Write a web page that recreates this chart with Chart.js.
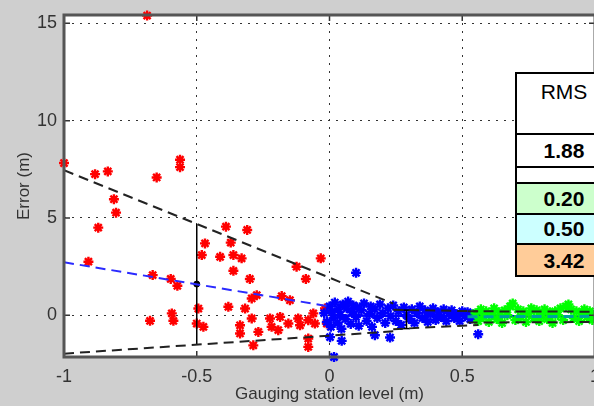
<!DOCTYPE html>
<html>
<head>
<meta charset="UTF-8">
<title>Error vs gauging station level</title>
<script src="https://cdn.jsdelivr.net/npm/chart.js"></script>
<style>
  html, body { margin: 0; padding: 0; background: #cfcfcf; overflow: hidden; }
  .wrap { position: relative; width: 594px; height: 406px; overflow: hidden; }
  #grafico { position: absolute; left: 0; top: 0; }
  .cell {
    position: absolute; left: 515px; width: 96px; box-sizing: border-box;
    border-left: 2px solid #000; border-top: 2px solid #000;
    font-family: "Liberation Sans", Arial, sans-serif; font-size: 21px;
    text-align: center; color: #000;
  }
</style>
</head>
<body>
<div class="wrap">
  <canvas id="grafico" width="610" height="406"></canvas>
  <div id="tabela"></div>
</div>
<script>
// ticks
const xTicks = [-1, -0.5, 0, 0.5, 1];
const yTicks = [0, 5, 10, 15];

// RMS table
const rmsHeader = 'RMS';
const rmsValues = ['1.88', '', '0.20', '0.50', '3.42'];

// red group (x < 0)
const redPoints = [
  [-0.687, 15.4],
  [-1.0, 7.82], [-0.883, 7.25], [-0.835, 7.39], [-0.812, 5.96], [-0.804, 5.27], [-0.871, 4.5],
  [-0.651, 7.08], [-0.563, 7.99], [-0.563, 7.61],
  [-0.908, 2.75], [-0.666, 2.06], [-0.598, 1.86], [-0.573, 1.51], [-0.676, -0.29], [-0.594, 0.09],
  [-0.588, -0.29], [-0.494, 0.34], [-0.5, -0.43],
  [-0.39, 4.55], [-0.31, 4.38], [-0.469, 3.69], [-0.481, 3.09], [-0.412, 3.0], [-0.372, 3.73],
  [-0.362, 3.09], [-0.331, 2.92], [-0.362, 2.28], [-0.3, 1.86],
  [-0.124, 2.49], [-0.089, 1.86], [-0.033, 2.92], [-0.274, 1.03], [-0.293, 0.86], [-0.18, 0.98],
  [-0.149, 0.77], [-0.017, 0.34], [-0.381, 0.43], [-0.318, 0.34], [-0.475, -0.6],
  [-0.293, -0.17], [-0.337, -0.52], [-0.337, -0.94], [-0.268, -0.86], [-0.224, -0.17], [-0.218, -0.6],
  [-0.193, -0.77], [-0.186, -0.09], [-0.155, -0.43], [-0.118, -0.17], [-0.111, -0.52], [-0.08, -0.26],
  [-0.061, 0.09], [-0.055, -0.43], [-0.287, -1.55], [-0.08, -1.2], [-0.08, -1.63], [-0.01, -0.43]
];

// blue group (0 .. 0.56)
const bluePoints = [
  [-0.02, 0.1], [-0.01, -0.35], [0.0, 0.45], [0.005, -0.6], [0.01, 0.2], [0.015, -0.15], [0.02, 0.65],
  [0.03, -0.4], [0.035, 0.3], [0.04, 0.0], [0.045, -0.7], [0.05, 0.55], [0.06, -0.2], [0.065, 0.35],
  [0.07, 0.7], [0.08, -0.45], [0.085, 0.15], [0.09, 0.5], [0.1, -0.1], [0.105, 0.4], [0.11, -0.55],
  [0.12, 0.25], [0.13, 0.6], [0.14, -0.3], [0.15, 0.05], [0.155, 0.45], [0.16, -0.6], [0.17, 0.3],
  [0.18, -0.15], [0.19, 0.55], [0.2, 0.1], [0.21, -0.4], [0.22, 0.35], [0.23, -0.05], [0.24, 0.5],
  [0.25, -0.3], [0.26, 0.2], [0.27, -0.5], [0.28, 0.4], [0.29, 0.0], [0.3, -0.2], [0.31, 0.3],
  [0.32, -0.4], [0.33, 0.1], [0.34, 0.45], [0.35, -0.15], [0.36, 0.25], [0.37, -0.35], [0.38, 0.05],
  [0.39, 0.35], [0.4, -0.25], [0.41, 0.15], [0.42, -0.1], [0.43, 0.3], [0.44, -0.3], [0.45, 0.1],
  [0.46, 0.25], [0.47, -0.15], [0.48, 0.05], [0.49, -0.3], [0.5, 0.2], [0.51, -0.05], [0.52, 0.15],
  [0.53, -0.2], [0.54, 0.05], [0.55, -0.1], [0.56, 0.1],
  [0.1, 2.18], [0.017, -2.15], [0.046, -1.32], [0.228, -1.15], [0.171, -1.03], [0.002, -1.13], [0.56, -0.98]
];

// green group (0.55 .. 1)
const greenPoints = [
  [0.55, 0.1], [0.56, -0.3], [0.57, 0.3], [0.58, -0.1], [0.59, 0.2], [0.6, -0.35], [0.61, 0.05],
  [0.62, 0.35], [0.63, -0.2], [0.64, 0.15], [0.65, -0.4], [0.66, 0.25], [0.67, 0.0], [0.68, 0.45],
  [0.69, 0.6], [0.7, -0.25], [0.71, 0.3], [0.72, -0.1], [0.73, 0.2], [0.74, -0.35], [0.75, 0.1],
  [0.76, 0.35], [0.77, -0.15], [0.78, 0.25], [0.79, -0.3], [0.8, 0.05], [0.81, 0.3], [0.82, -0.2],
  [0.83, 0.15], [0.84, -0.4], [0.85, 0.2], [0.86, 0.0], [0.87, 0.35], [0.88, -0.25], [0.89, 0.45],
  [0.9, 0.55], [0.91, 0.3], [0.92, -0.15], [0.93, 0.2], [0.94, -0.3], [0.95, 0.1], [0.96, 0.3],
  [0.97, -0.1], [0.98, 0.2], [0.99, -0.25], [1.0, 0.1]
];

// fitted lines and bounds
const redUpper = [[-1, 7.45], [0.24, 0.6]];
const redLower = [[-1, -1.98], [0.25, -0.82]];
const redMean = [[-1, 2.72], [0, 0.45]];
const redBar = [[-0.5, 4.69], [-0.5, -1.52]];
const redBarMid = [[-0.5, 1.6]];
const blueUpper = [[0.24, 0.28], [0.56, 0.2]];
const blueLower = [[0.24, -0.72], [0.56, -0.5]];
const blueBar = [[0.29, 0.26], [0.29, -0.69]];
const blueBarTop = [[0.278, 0.26], [0.302, 0.26]];
const blueBarBot = [[0.278, -0.69], [0.302, -0.69]];
const blueMean = [[0.0, -0.02], [1.0, -0.08]];
const greenUpper = [[0.52, 0.2], [1.0, 0.18]];
const greenLower = [[0.52, -0.38], [1.0, -0.35]];
const greenMean = [[0.52, -0.08], [1.0, -0.06]];

const pts = arr => arr.map(p => ({ x: p[0], y: p[1] }));

function linha(data, color, dash, width) {
  return {
    data: pts(data), showLine: true, pointRadius: 0, borderColor: color,
    borderWidth: width || 2, borderDash: dash || [], fill: false
  };
}
function estrelas(data, color) {
  return {
    data: pts(data), pointStyle: 'star', pointRadius: 5, pointHoverRadius: 5,
    borderColor: color, backgroundColor: color, borderWidth: 2.4, clip: false
  };
}

const moldura = {
  id: 'moldura',
  beforeDraw(chart) {
    const { ctx, chartArea: a } = chart;
    ctx.save();
    ctx.fillStyle = '#ffffff';
    ctx.fillRect(a.left, a.top, a.right - a.left, a.bottom - a.top);
    ctx.restore();
  },
  afterDraw(chart) {
    const { ctx, chartArea: a, scales } = chart;
    ctx.save();
    ctx.strokeStyle = '#333';
    ctx.lineWidth = 1.5;
    ctx.beginPath();
    xTicks.forEach(v => {
      const px = scales.x.getPixelForValue(v);
      ctx.moveTo(px, a.bottom); ctx.lineTo(px, a.bottom - 6);
      ctx.moveTo(px, a.top); ctx.lineTo(px, a.top + 6);
    });
    yTicks.forEach(v => {
      const py = scales.y.getPixelForValue(v);
      ctx.moveTo(a.left, py); ctx.lineTo(a.left + 6, py);
      ctx.moveTo(a.right, py); ctx.lineTo(a.right - 6, py);
    });
    ctx.stroke();
    ctx.strokeStyle = '#555';
    ctx.lineWidth = 3;
    ctx.strokeRect(a.left, a.top, a.right - a.left, a.bottom - a.top);
    ctx.restore();
  }
};

const fonte = "'Liberation Sans', Arial, sans-serif";

new Chart(document.getElementById('grafico'), {
  type: 'scatter',
  data: {
    datasets: [
      linha(redUpper, '#222', [10, 6]),
      linha(redLower, '#222', [10, 6]),
      linha(redMean, '#2a2aff', [10, 6]),
      linha(redBar, '#000', [], 1.5),
      { data: pts(redBarMid), pointRadius: 3, backgroundColor: '#000', borderColor: '#000' },
      linha(blueUpper, '#222', [10, 6]),
      linha(blueLower, '#222', [10, 6]),
      linha(blueBar, '#000', [], 1.5),
      linha(blueBarTop, '#000', [], 1.5),
      linha(blueBarBot, '#000', [], 1.5),
      linha(greenUpper, '#222', [10, 6]),
      linha(greenLower, '#222', [10, 6]),
      linha(greenMean, '#00a0a0', [10, 6], 3),
      estrelas(greenPoints, '#00ff00'),
      linha(blueMean, '#0000ff', [], 2.5),
      estrelas(bluePoints, '#0000ff'),
      estrelas(redPoints, '#ff0000')
    ]
  },
  options: {
    responsive: false,
    animation: false,
    devicePixelRatio: 1,
    layout: { padding: { left: 0, right: 15, top: 15, bottom: 0 } },
    plugins: { legend: { display: false }, tooltip: { enabled: false } },
    scales: {
      x: {
        type: 'linear', min: -1, max: 1,
        afterFit(scale) { scale.height = 49; scale.paddingLeft = 0; scale.paddingRight = 0; },
        afterBuildTicks(scale) { scale.ticks = xTicks.map(v => ({ value: v })); },
        ticks: { color: '#333', padding: 9, font: { family: fonte, size: 18 }, callback: v => String(v) },
        grid: { color: '#333', lineWidth: 1, drawTicks: false },
        border: { display: false, dash: [2, 6] },
        title: { display: true, text: 'Gauging station level (m)', color: '#333',
                 padding: { top: 0, bottom: 1 }, font: { family: fonte, size: 17 } }
      },
      y: {
        type: 'linear', min: -2.15, max: 15.43,
        afterFit(scale) { scale.width = 64; scale.paddingTop = 0; scale.paddingBottom = 0; },
        afterBuildTicks(scale) { scale.ticks = yTicks.map(v => ({ value: v })); },
        ticks: { color: '#333', padding: 7, font: { family: fonte, size: 18 }, callback: v => String(v) },
        grid: { color: '#333', lineWidth: 1, drawTicks: false },
        border: { display: false, dash: [2, 6] },
        title: { display: true, text: 'Error (m)', color: '#333',
                 padding: { top: 14, bottom: 0 }, font: { family: fonte, size: 17 } }
      }
    }
  },
  plugins: [moldura]
});

// RMS table drawn as html over the plot
const headerTop = 72, headerHeight = 61;
const rowTops = [133, 166, 182, 213, 243];
const rowHeights = [33, 16, 31, 30, 34];
const rowColors = ['#ffffff', '#ffffff', '#ccffcc', '#ccffff', '#ffcc99'];
const tabela = document.getElementById('tabela');
const cab = document.createElement('div');
cab.className = 'cell';
cab.style.top = headerTop + 'px';
cab.style.height = headerHeight + 'px';
cab.style.background = '#fff';
cab.style.lineHeight = '24px';
cab.style.paddingTop = '6px';
cab.textContent = rmsHeader;
tabela.appendChild(cab);
rmsValues.forEach((txt, i) => {
  const d = document.createElement('div');
  d.className = 'cell';
  d.style.top = rowTops[i] + 'px';
  d.style.height = rowHeights[i] + 'px';
  d.style.lineHeight = (rowHeights[i] - 2) + 'px';
  d.style.background = rowColors[i];
  d.style.fontWeight = 'bold';
  if (i === rmsValues.length - 1) d.style.borderBottom = '2px solid #000';
  d.textContent = txt;
  tabela.appendChild(d);
});
</script>
</body>
</html>
